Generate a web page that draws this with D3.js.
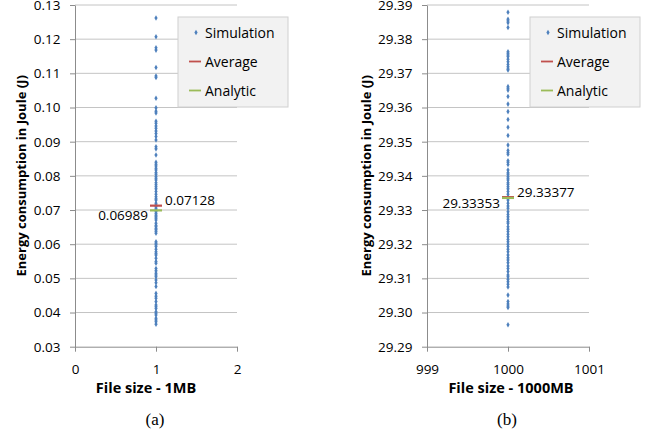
<!DOCTYPE html>
<html>
<head>
<meta charset="utf-8">
<script src="https://cdn.jsdelivr.net/npm/d3@7"></script>
<style>
  body { margin: 0; background: #fff; }
  svg { display: block; font-family: 'Open Sans', 'Noto Sans', sans-serif; }
</style>
</head>
<body>
<svg id="chart" width="645" height="435"></svg>
<script>
// panel (a) - 1MB
const simA = [0.1262, 0.1207, 0.1175, 0.1168, 0.1117, 0.1092, 0.1088, 0.1027, 0.0999, 0.0989, 0.0984,
  0.0960, 0.0954, 0.0946, 0.0939, 0.0931, 0.0924, 0.0915, 0.0905, 0.0885, 0.0879, 0.0861, 0.0840, 0.0834,
  0.0829, 0.0822, 0.0817, 0.0810, 0.0805, 0.0798, 0.0793, 0.0788, 0.0780, 0.0774, 0.0768, 0.0762, 0.0754,
  0.0746, 0.0739, 0.0733, 0.0729, 0.0720, 0.0715, 0.0710, 0.0705, 0.0700, 0.0695, 0.0690, 0.0685, 0.0680,
  0.0676, 0.0671, 0.0661, 0.0655, 0.0651, 0.0646, 0.0642, 0.0637, 0.0632, 0.0607, 0.0603, 0.0598, 0.0593,
  0.0585, 0.0578, 0.0573, 0.0568, 0.0559, 0.0549, 0.0544, 0.0529, 0.0522, 0.0515, 0.0510, 0.0505, 0.0495,
  0.0487, 0.0476, 0.0456, 0.0448, 0.0442, 0.0432, 0.0422, 0.0417, 0.0412, 0.0402, 0.0398, 0.0393, 0.0383,
  0.0378, 0.0373, 0.0366];
const avgA = 0.07128, anaA = 0.06989;
const yTicksA = [0.03, 0.04, 0.05, 0.06, 0.07, 0.08, 0.09, 0.10, 0.11, 0.12, 0.13];
const xTicksA = [0, 1, 2];

// panel (b) - 1000MB
const simB = [29.3879, 29.3858, 29.3853, 29.3848, 29.3834, 29.3763, 29.3759, 29.3754, 29.3749, 29.3741,
  29.3734, 29.3726, 29.3719, 29.3713, 29.3710, 29.3661, 29.3656, 29.3651, 29.3632, 29.3610, 29.3588,
  29.3565, 29.3542, 29.3518, 29.3490, 29.3474, 29.3468, 29.3463, 29.3444, 29.3440, 29.3433, 29.3417,
  29.3409, 29.3405, 29.3398, 29.3393, 29.3388, 29.3380, 29.3375, 29.3368, 29.3362, 29.3354, 29.3346,
  29.3339, 29.3329, 29.3320, 29.3312, 29.3305, 29.3295, 29.3287, 29.3280, 29.3273, 29.3266, 29.3261,
  29.3251, 29.3244, 29.3237, 29.3229, 29.3222, 29.3214, 29.3207, 29.3200, 29.3193, 29.3185, 29.3178,
  29.3168, 29.3160, 29.3154, 29.3146, 29.3136, 29.3129, 29.3120, 29.3110, 29.3105, 29.3097, 29.3090,
  29.3083, 29.3075, 29.3051, 29.3032, 29.3025, 29.3019, 29.3015, 29.2964];
const avgB = 29.33377, anaB = 29.33353;
const yTicksB = [29.29, 29.30, 29.31, 29.32, 29.33, 29.34, 29.35, 29.36, 29.37, 29.38, 29.39];
const xTicksB = [999, 1000, 1001];

const legendItems = ['Simulation', 'Average', 'Analytic'];
const blue = '#4f81bd', red = '#c0504d', green = '#9bbb59';

const svg = d3.select('#chart');

function panel(opt) {
  const x = d3.scaleLinear().domain([opt.xTicks[0], opt.xTicks[2]]).range([opt.left, opt.left + 162]);
  const y = d3.scaleLinear().domain([opt.yTicks[0], opt.yTicks[opt.yTicks.length - 1]]).range([346.7, 5]);
  const g = svg.append('g');

  // grid
  g.selectAll('.grid').data(opt.yTicks.slice(1)).enter().append('line')
    .attr('x1', opt.left).attr('x2', opt.left + 162)
    .attr('y1', d => y(d)).attr('y2', d => y(d))
    .attr('stroke', '#c4c4c4').attr('stroke-width', 1);

  const yAxis = g.append('g').attr('transform', `translate(${opt.left},0)`)
    .call(d3.axisLeft(y).tickValues(opt.yTicks).tickFormat(opt.yFmt).tickSize(5).tickSizeOuter(0));
  const xAxis = g.append('g').attr('transform', `translate(0,${y(opt.yTicks[0])})`)
    .call(d3.axisBottom(x).tickValues(opt.xTicks).tickFormat(d3.format('d')).tickSize(5).tickSizeOuter(0));
  [yAxis, xAxis].forEach(a => {
    a.select('.domain').attr('stroke', '#8c8c8c');
    a.selectAll('.tick line').attr('stroke', '#8c8c8c');
    a.selectAll('text').attr('font-size', 13.5).attr('fill', '#000')
      .attr('font-family', "'Open Sans', sans-serif");
  });
  yAxis.selectAll('text').attr('x', -14.5);
  xAxis.selectAll('text').attr('y', 18);

  // simulation points
  const cx = x(opt.xTicks[1]);
  g.selectAll('.pt').data(opt.sim).enter().append('path')
    .attr('d', d3.symbol().type(d3.symbolDiamond).size(9))
    .attr('transform', d => `translate(${cx},${y(d)})`)
    .attr('fill', blue);

  // average and analytic marks
  g.append('line').attr('x1', cx - 6).attr('x2', cx + 6)
    .attr('y1', y(opt.avg)).attr('y2', y(opt.avg))
    .attr('stroke', red).attr('stroke-width', 2.2);
  g.append('line').attr('x1', cx - 6).attr('x2', cx + 6)
    .attr('y1', y(opt.ana)).attr('y2', y(opt.ana))
    .attr('stroke', green).attr('stroke-width', 2.2);
  g.append('text').attr('x', cx + 9).attr('y', y(opt.avg) - 0.5)
    .attr('font-size', 13.5).text(opt.avgLabel);
  g.append('text').attr('x', cx - 8).attr('y', y(opt.ana) + 10)
    .attr('font-size', 13.5).attr('text-anchor', 'end').text(opt.anaLabel);

  // legend
  const lg = g.append('g').attr('transform', `translate(${opt.left + 103},17)`);
  lg.append('rect').attr('width', 110).attr('height', 90)
    .attr('fill', '#f2f2f2').attr('stroke', '#d0d0d0');
  legendItems.forEach((name, i) => {
    const ly = 15.5 + i * 29;
    if (i === 0) {
      lg.append('path').attr('d', d3.symbol().type(d3.symbolDiamond).size(9))
        .attr('transform', `translate(18,${ly})`).attr('fill', blue);
    } else {
      lg.append('line').attr('x1', 11).attr('x2', 23).attr('y1', ly).attr('y2', ly)
        .attr('stroke', i === 1 ? red : green).attr('stroke-width', 1.8);
    }
    lg.append('text').attr('x', 27).attr('y', ly + 5).attr('font-size', 14).text(name);
  });

  // titles
  svg.append('text')
    .attr('transform', `translate(${opt.yTitleX},${y((opt.yTicks[0] + opt.yTicks[10]) / 2)}) rotate(-90)`)
    .attr('text-anchor', 'middle').attr('font-size', 13).attr('font-weight', 'bold')
    .text('Energy consumption in Joule (J)');
  svg.append('text').attr('x', cx + opt.xTitleShift).attr('y', 392.5)
    .attr('text-anchor', 'middle').attr('font-size', 14.5).attr('font-weight', 'bold')
    .text(opt.xTitle);
  svg.append('text').attr('x', cx - 1).attr('y', 425)
    .attr('text-anchor', 'middle').attr('font-size', 17)
    .attr('font-family', "'Liberation Serif', 'DejaVu Serif', serif")
    .text(opt.caption);
}

panel({
  left: 75, sim: simA, avg: avgA, ana: anaA, yTicks: yTicksA, xTicks: xTicksA,
  yFmt: d3.format('.2f'), avgLabel: '0.07128', anaLabel: '0.06989',
  yTitleX: 26, xTitle: 'File size - 1MB', xTitleShift: -10, caption: '(a)'
});
panel({
  left: 427, sim: simB, avg: avgB, ana: anaB, yTicks: yTicksB, xTicks: xTicksB,
  yFmt: d3.format('.2f'), avgLabel: '29.33377', anaLabel: '29.33353',
  yTitleX: 371, xTitle: 'File size - 1000MB', xTitleShift: 3, caption: '(b)'
});
</script>
</body>
</html>
